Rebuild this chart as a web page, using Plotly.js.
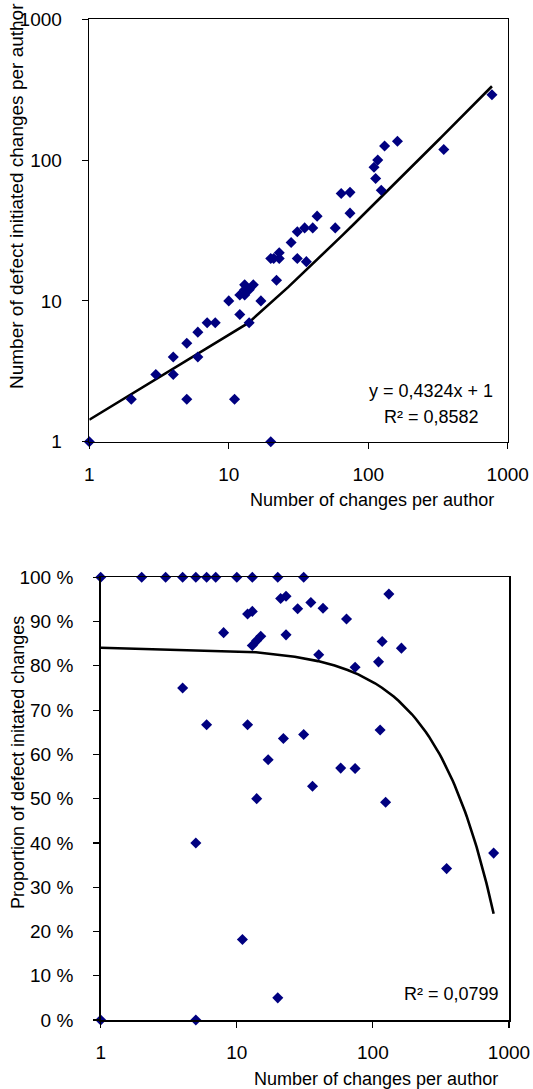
<!DOCTYPE html>
<html>
<head>
<meta charset="utf-8">
<script src="https://cdn.plot.ly/plotly-3.0.1.min.js"></script>
<style>html,body{margin:0;padding:0;background:#fff;}#chart{width:533px;height:1089px;}</style>
</head>
<body>
<div id="chart"></div>
<script>
// ---- Top chart: number of changes vs number of defect initiated changes (per author)
const topChanges = [1, 2, 3, 4, 4, 5, 5, 6, 6, 7, 8, 10, 11, 12, 12, 13, 13, 13, 14, 14, 15, 17, 20, 20, 21, 22, 23, 23, 28, 31, 31, 35, 36, 40, 43, 58, 64, 74, 74, 110, 113, 117, 124, 131, 162, 348, 771];
const topDefects = [1, 2, 3, 4, 3, 5, 2, 6, 4, 7, 7, 10, 2, 11, 8, 13, 12, 11, 12, 7, 13, 10, 20, 1, 20, 14, 22, 20, 26, 31, 20, 33, 19, 33, 40, 33, 58, 59, 42, 89, 74, 100, 61, 126, 136, 119, 291];

// ---- Bottom chart: number of changes vs proportion (%) of defect initiated changes
const bottomChanges = [1, 1, 2, 3, 4, 4, 5, 5, 5, 6, 6, 7, 8, 10, 11, 12, 12, 13, 13, 13, 14, 14, 15, 17, 20, 20, 21, 22, 23, 23, 28, 31, 31, 35, 36, 40, 43, 58, 64, 74, 74, 110, 113, 117, 124, 131, 162, 348, 771];
const bottomShare = [100, 0, 100, 100, 100, 75, 100, 40, 0, 100, 66.7, 100, 87.5, 100, 18.2, 91.7, 66.7, 100, 92.3, 84.6, 85.7, 50, 86.7, 58.8, 100, 5, 95.2, 63.6, 95.7, 87, 92.9, 100, 64.5, 94.3, 52.8, 82.5, 93, 56.9, 90.6, 79.7, 56.8, 80.9, 65.5, 85.5, 49.2, 96.2, 84, 34.2, 37.7];

const topFitSlope = 0.4324, topFitIntercept = 1;
const bottomFitSlope = -0.078, bottomFitIntercept = 84.15;
const fitSteps = 60;

// ---- Tick labels
const logTickVals = [1, 10, 100, 1000];
const logTickText = ['1', '10', '100', '1000'];
const pctTickVals = [0, 10, 20, 30, 40, 50, 60, 70, 80, 90, 100];
const pctTickText = ['0 %', '10 %', '20 %', '30 %', '40 %', '50 %', '60 %', '70 %', '80 %', '90 %', '100 %'];

// ---- Texts
const topYTitle = 'Number of defect initiated changes per author';
const bottomYTitle = 'Proportion of defect initated changes';
const xTitle = 'Number of changes per author';
const topEq = 'y = 0,4324x + 1';
const topR2 = 'R² = 0,8582';
const bottomR2 = 'R² = 0,0799';

function fitLine(xs, slope, intercept) {
  const xmin = Math.min(...xs), xmax = Math.max(...xs);
  const fx = [], fy = [];
  for (let k = 0; k <= fitSteps; k++) {
    const x = xmin + (xmax - xmin) * k / fitSteps;
    fx.push(x); fy.push(slope * x + intercept);
  }
  return [fx, fy];
}
const [tfx, tfy] = fitLine(topChanges, topFitSlope, topFitIntercept);
const [bfx, bfy] = fitLine(bottomChanges, bottomFitSlope, bottomFitIntercept);

const W = 533, H = 1089;
const FONT = 'Liberation Sans, Arial, sans-serif';
const markerStyle = {symbol: 'diamond', size: 8.5, color: '#000080', line: {width: 0}};
const lineStyle = {color: '#000000', width: 2.6};

const traces = [
  {x: tfx, y: tfy, type: 'scatter', mode: 'lines', line: lineStyle, xaxis: 'x', yaxis: 'y', hoverinfo: 'skip', cliponaxis: false},
  {x: topChanges, y: topDefects, type: 'scatter', mode: 'markers', marker: markerStyle, xaxis: 'x', yaxis: 'y', cliponaxis: false},
  {x: bfx, y: bfy, type: 'scatter', mode: 'lines', line: lineStyle, xaxis: 'x2', yaxis: 'y2', hoverinfo: 'skip', cliponaxis: false},
  {x: bottomChanges, y: bottomShare, type: 'scatter', mode: 'markers', marker: markerStyle, xaxis: 'x2', yaxis: 'y2', cliponaxis: false}
];

const axisCommon = {
  showgrid: false, zeroline: false, showline: true, mirror: true,
  linecolor: '#000', linewidth: 1.6, ticks: 'outside', ticklen: 6,
  tickcolor: '#000', tickwidth: 1.2, tickfont: {family: FONT, size: 19, color: '#000'}
};

const layout = {
  width: W, height: H,
  margin: {l: 0, r: 0, t: 0, b: 0},
  paper_bgcolor: '#fff', plot_bgcolor: '#fff',
  showlegend: false,
  font: {family: FONT, color: '#000'},
  xaxis: Object.assign({}, axisCommon, {type: 'log', range: [0, 3], domain: [89.3 / W, 507.7 / W], anchor: 'y',
    tickvals: logTickVals, ticktext: logTickText, ticklabelstandoff: 9}),
  yaxis: Object.assign({}, axisCommon, {type: 'log', range: [0, 3], domain: [1 - 441.7 / H, 1 - 19.3 / H], anchor: 'x',
    tickvals: logTickVals, ticktext: logTickText, ticklabelstandoff: 16}),
  xaxis2: Object.assign({}, axisCommon, {type: 'log', range: [0, 3], domain: [100.7 / W, 509 / W], anchor: 'y2',
    tickvals: logTickVals, ticktext: logTickText, ticklabelstandoff: 9}),
  yaxis2: Object.assign({}, axisCommon, {range: [0, 100], domain: [1 - 1020 / H, 1 - 577.3 / H], anchor: 'x2',
    tickvals: pctTickVals, ticktext: pctTickText, ticklabelstandoff: 16}),
  annotations: [
    {text: topYTitle, xref: 'paper', yref: 'paper', x: 17 / W, y: 1 - 196 / H, textangle: -90, showarrow: false,
      xanchor: 'center', yanchor: 'middle', font: {family: FONT, size: 19, color: '#000'}},
    {text: bottomYTitle, xref: 'paper', yref: 'paper', x: 17.5 / W, y: 1 - 762.5 / H, textangle: -90, showarrow: false,
      xanchor: 'center', yanchor: 'middle', font: {family: FONT, size: 18, color: '#000'}},
    {text: xTitle, xref: 'paper', yref: 'paper', x: 372 / W, y: 1 - 500 / H, showarrow: false,
      xanchor: 'center', yanchor: 'middle', font: {family: FONT, size: 18, color: '#000'}},
    {text: xTitle, xref: 'paper', yref: 'paper', x: 376 / W, y: 1 - 1079 / H, showarrow: false,
      xanchor: 'center', yanchor: 'middle', font: {family: FONT, size: 18, color: '#000'}},
    {text: topEq, xref: 'paper', yref: 'paper', x: 431 / W, y: 1 - 391 / H, showarrow: false,
      xanchor: 'center', yanchor: 'middle', font: {family: FONT, size: 18, color: '#000'}},
    {text: topR2, xref: 'paper', yref: 'paper', x: 431.5 / W, y: 1 - 416.5 / H, showarrow: false,
      xanchor: 'center', yanchor: 'middle', font: {family: FONT, size: 18, color: '#000'}},
    {text: bottomR2, xref: 'paper', yref: 'paper', x: 451 / W, y: 1 - 994 / H, showarrow: false,
      xanchor: 'center', yanchor: 'middle', font: {family: FONT, size: 18, color: '#000'}}
  ]
};

Plotly.newPlot('chart', traces, layout, {staticPlot: true, displayModeBar: false});
</script>
</body>
</html>
